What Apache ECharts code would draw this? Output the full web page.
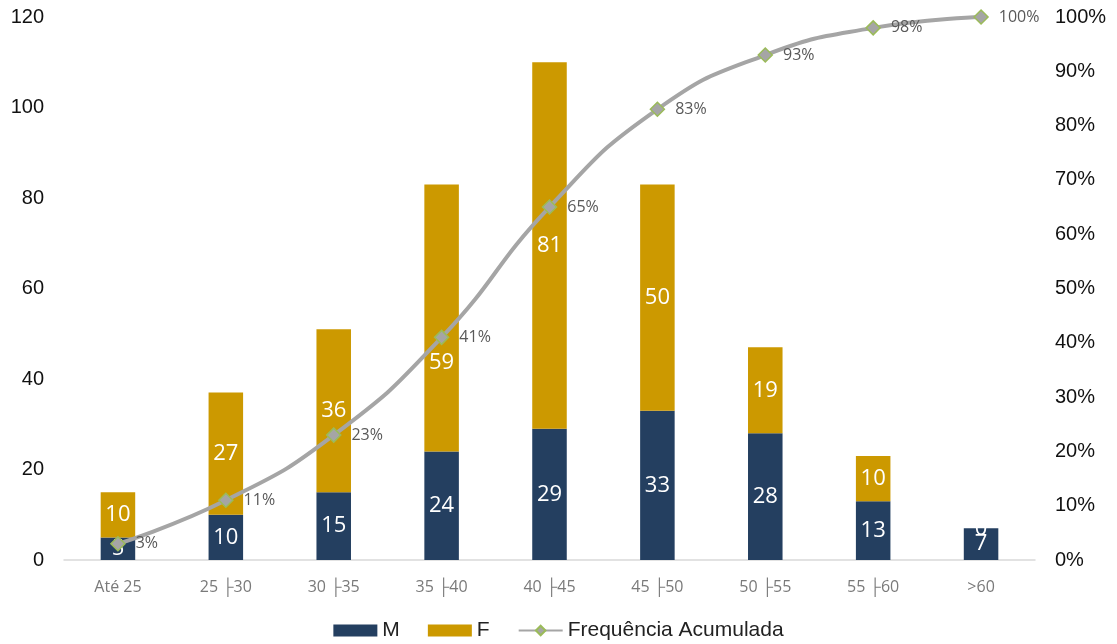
<!DOCTYPE html>
<html><head><meta charset="utf-8">
<script src="https://cdn.jsdelivr.net/npm/echarts@6/dist/echarts.min.js"></script>
<style>html,body{margin:0;padding:0;background:#fff}#c{width:1117px;height:644px}</style>
</head><body><div id="c"></div>
<script>
const categories = ['Até 25','25 ├30','30 ├35','35 ├40','40 ├45','45 ├50','50 ├55','55 ├60','>60'];
const valuesM = [5,10,15,24,29,33,28,13,7];
const valuesF = [10,27,36,59,81,50,19,10,0];
const cumulative = [3,11,23,41,65,83,93,98,100];
const leftTicks = {min:0,max:120,interval:20};
const rightTicks = {min:0,max:100,interval:10};

// label nudges (pixels) for F labels, as placed in the original
const fLabelNudge = [0,0,0,45,0,0,0,0,0];

const chart = echarts.init(document.getElementById('c'));
const barLabel = {show:true,position:'inside',color:'#fff',fontSize:22,fontFamily:'Open Sans'};
chart.setOption({
  animation:false,
  grid:{left:64,right:82,top:17,bottom:84},
  legend:{bottom:3,padding:0,left:'center',itemGap:28,itemWidth:44,itemHeight:12,
    textStyle:{fontSize:21,color:'#222',fontFamily:'Liberation Sans'},
    data:[{name:'M',icon:'rect'},{name:'F',icon:'rect'},{name:'Frequência Acumulada'}]},
  xAxis:{type:'category',data:categories,
    axisLine:{lineStyle:{color:'#d9d9d9',width:1.5}},axisTick:{show:false},
    axisLabel:{color:'#7a7a7a',fontSize:16,fontFamily:'Open Sans',margin:19}},
  yAxis:[
    {type:'value',min:leftTicks.min,max:leftTicks.max,interval:leftTicks.interval,
     splitLine:{show:false},axisLine:{show:false},axisTick:{show:false},
     axisLabel:{color:'#111',fontSize:20,fontFamily:'Liberation Sans',margin:20}},
    {type:'value',min:rightTicks.min,max:rightTicks.max,interval:rightTicks.interval,
     splitLine:{show:false},axisLine:{show:false},axisTick:{show:false},
     axisLabel:{color:'#111',fontSize:20,fontFamily:'Liberation Sans',margin:20,formatter:'{value}%'}}
  ],
  series:[
    {name:'M',type:'bar',stack:'s',data:valuesM,barWidth:'32%',itemStyle:{color:'#243F60'},label:barLabel},
    {name:'F',type:'bar',stack:'s',barWidth:'32%',itemStyle:{color:'#CC9900'},label:barLabel,
     data:valuesF.map((v,i)=>({value:v,label:{offset:[0,fLabelNudge[i]]}}))},
    {name:'Frequência Acumulada',type:'line',yAxisIndex:1,data:cumulative,smooth:true,
     lineStyle:{color:'#A5A5A5',width:4},itemStyle:{color:'#A5A5A5',borderColor:'#9BBB59',borderWidth:1.5},
     symbol:'diamond',symbolSize:14,
     label:{show:true,position:'right',distance:10,formatter:'{c}%',color:'#595959',fontSize:16,fontFamily:'Open Sans'}}
  ]
});
</script></body></html>
